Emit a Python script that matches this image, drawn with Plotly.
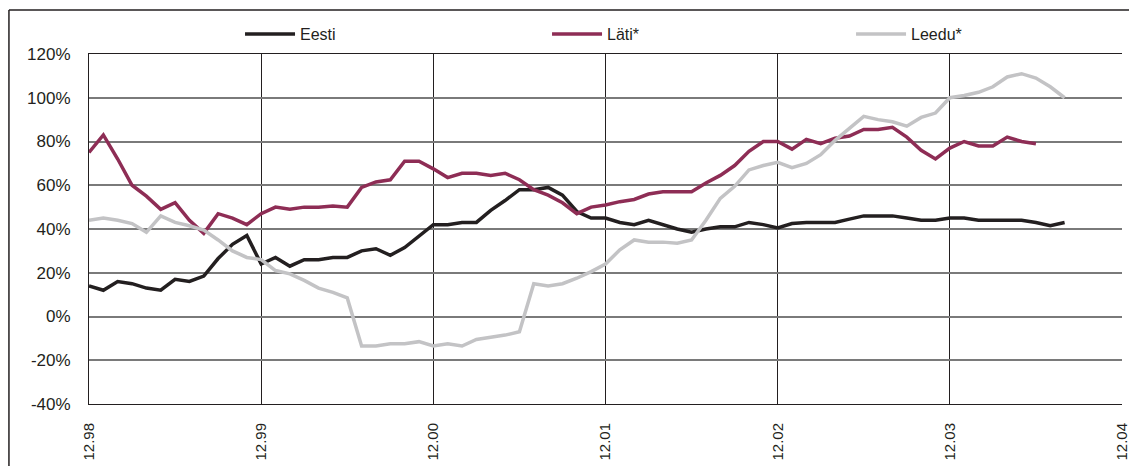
import plotly.graph_objects as go

# month index 0 = Dec 1998
tick_labels = ["12.98", "12.99", "12.00", "12.01", "12.02", "12.03", "12.04"]
y_ticks = [-40, -20, 0, 20, 40, 60, 80, 100, 120]

eesti = [
    14, 12, 16, 15, 13, 12, 17, 16, 18.5, 26.5, 33, 37, 24,
    27, 23, 26, 26, 27, 27, 30, 31, 28, 31.5, 37, 42,
    42, 43, 43, 48.5, 53, 58, 58, 59, 55.5, 48, 45, 45,
    43, 42, 44, 42, 40, 38.5, 40, 41, 41, 43, 42, 40.5,
    42.5, 43, 43, 43, 44.5, 46, 46, 46, 45, 44, 44, 45,
    45, 44, 44, 44, 44, 43, 41.5, 43,
]
lati = [
    75, 83, 72, 60, 55, 49, 52, 44, 38, 47, 45, 42, 47,
    50, 49, 50, 50, 50.5, 50, 59, 61.5, 62.5, 71, 71, 67.5,
    63.5, 65.5, 65.5, 64.5, 65.5, 62.5, 58, 55.5, 52, 47, 50, 51,
    52.5, 53.5, 56, 57, 57, 57, 61, 64.5, 69, 75.5, 80, 80,
    76.5, 81, 79, 81.5, 82.5, 85.5, 85.5, 86.5, 82, 76, 72, 77,
    80, 78, 78, 82, 80, 79,
]
leedu = [
    44, 45, 44, 42.5, 38.5, 46, 43, 41.5, 39.5, 35, 30, 27, 26,
    21, 19.5, 16.5, 13, 11, 8.5, -13.5, -13.5, -12.5, -12.5, -11.5, -13.5,
    -12.5, -13.5, -10.5, -9.5, -8.5, -7, 15, 14, 15, 17.5, 20.5, 24,
    30.5, 35, 34, 34, 33.5, 35, 44, 54, 59.5, 67, 69, 70.5,
    68, 70, 74, 80.5, 86, 91.5, 90, 89, 87, 91, 93, 100,
    101, 102.5, 105, 109.5, 111, 109, 105, 100,
]

# name, values, colour, legend id, legend x
series = [
    ("Eesti", eesti, "#231f20", "legend", 0.1462),
    ("Läti*", lati, "#8e2d55", "legend2", 0.4434),
    ("Leedu*", leedu, "#c3c3c5", "legend3", 0.7377),
]

fig = go.Figure()
legends = {}
for name, vals, color, leg, lx in series:
    fig.add_trace(go.Scatter(
        x=list(range(len(vals))),
        y=vals,
        mode="lines",
        name=name,
        legend=leg,
        line=dict(color=color, width=3.5),
    ))
    legends[leg] = dict(
        orientation="h",
        x=lx,
        xanchor="left",
        y=1.057,
        yanchor="middle",
        itemwidth=50,
        font=dict(size=16),
        bgcolor="rgba(0,0,0,0)",
    )

# outer frame: only the top and left edges are visible in the picture
frame = dict(color="#231f20", width=1.5)

fig.update_layout(
    width=1129,
    height=466,
    margin=dict(l=89, r=7, t=54, b=62),
    paper_bgcolor="white",
    plot_bgcolor="white",
    font=dict(family="Liberation Sans, Arial, sans-serif", size=16, color="#231f20"),
    showlegend=True,
    shapes=[
        dict(type="line", xref="paper", yref="paper",
             x0=-0.0775, x1=1.2, y0=1.126, y1=1.126, line=frame),
        dict(type="line", xref="paper", yref="paper",
             x0=-0.0775, x1=-0.0775, y0=-0.5, y1=1.126, line=frame),
    ],
    **legends,
)

fig.update_xaxes(
    range=[0, 72],
    tickvals=[12 * i for i in range(len(tick_labels))],
    ticktext=tick_labels,
    tickangle=-90,
    showgrid=True,
    gridcolor="#231f20",
    gridwidth=1,
    showline=True,
    linecolor="#231f20",
    mirror=True,
    zeroline=False,
    ticks="",
    ticklabelstandoff=12,
    ticklabeloverflow="allow",
    tickfont=dict(size=15),
    automargin=False,
)
fig.update_yaxes(
    range=[-40, 120],
    tickvals=y_ticks,
    ticktext=[f"{v}%" for v in y_ticks],
    showgrid=True,
    gridcolor="#7a7a7a",
    gridwidth=1.5,
    showline=True,
    linecolor="#231f20",
    zeroline=False,
    ticks="",
    ticklabelstandoff=14,
    tickfont=dict(size=17),
    automargin=False,
)

# drop the default page margin so the figure fills the window exactly
fig.write_html(
    "out.html",
    config={"displayModeBar": False},
    post_script="document.body.style.margin='0';document.body.style.overflow='hidden';",
)
